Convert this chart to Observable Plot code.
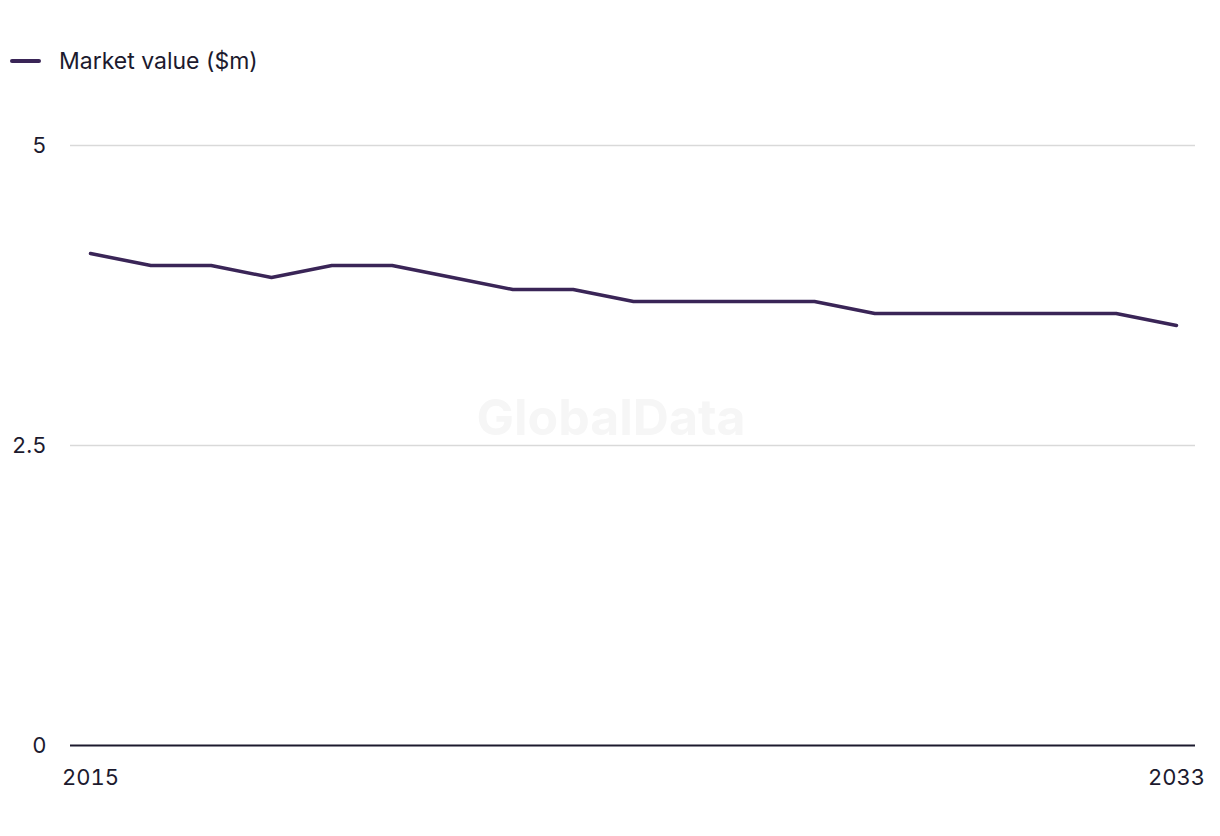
<!DOCTYPE html>
<html>
<head>
<meta charset="utf-8">
<script src="https://cdn.jsdelivr.net/npm/d3@7"></script>
<script src="https://cdn.jsdelivr.net/npm/@observablehq/plot@0.6"></script>
<style>
  html, body { margin: 0; padding: 0; background: #fff; }
  body { width: 1220px; height: 836px; position: relative; overflow: hidden; font-family: Inter, "Noto Sans", sans-serif; color: #1c1a2e; }
  #legend { position: absolute; left: 10px; top: 46px; height: 30px; display: flex; align-items: center; font-size: 23px; }
  #legend .sw { width: 31px; height: 4px; border-radius: 2px; background: #3a2557; margin-right: 18px; }
  #chart { position: absolute; left: 0; top: 90px; }
</style>
</head>
<body>
<div id="legend"><span class="sw"></span><span>Market value ($m)</span></div>
<div id="chart"></div>
<script>
const years = [2015, 2016, 2017, 2018, 2019, 2020, 2021, 2022, 2023, 2024, 2025, 2026, 2027, 2028, 2029, 2030, 2031, 2032, 2033];
const marketValue = [4.1, 4.0, 4.0, 3.9, 4.0, 4.0, 3.9, 3.8, 3.8, 3.7, 3.7, 3.7, 3.7, 3.6, 3.6, 3.6, 3.6, 3.6, 3.5];
const yTicks = [0, 2.5, 5];
const xTicks = [2015, 2033];
const watermark = ["GlobalData"];

const data = years.map((y, i) => ({year: y, value: marketValue[i]}));

const chart = Plot.plot({
  width: 1220,
  height: 746,
  marginTop: 55,
  marginBottom: 91,
  marginLeft: 70,
  marginRight: 25,
  insetLeft: 20,
  insetRight: 19,
  style: {fontFamily: "Inter, 'Noto Sans', sans-serif", fontSize: "22px", color: "#1c1a2e", background: "#fff"},
  x: {domain: [2015, 2033], ticks: xTicks, tickFormat: d => String(d), tickSize: 0, tickPadding: 24, label: null},
  y: {domain: [0, 5], ticks: yTicks, tickFormat: d => String(d), tickSize: 0, tickPadding: 24, label: null},
  marks: [
    Plot.text(watermark, {text: d => d, frameAnchor: "middle", dx: -22, dy: -27, fontSize: 50, fontWeight: "bold", fill: "#f6f6f6"}),
    Plot.gridY(yTicks.filter(d => d > 0), {stroke: "#d9d9d9", strokeOpacity: 1, strokeWidth: 1.5}),
    Plot.ruleY([0], {stroke: "#1c1a2e", strokeWidth: 2}),
    Plot.line(data, {x: "year", y: "value", stroke: "#3a2557", strokeWidth: 3.5})
  ]
});
document.getElementById("chart").appendChild(chart);
</script>
</body>
</html>
